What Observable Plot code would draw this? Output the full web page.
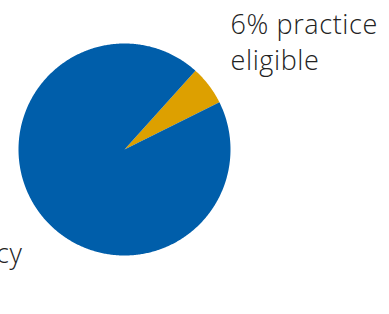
<!DOCTYPE html>
<html>
<head>
<meta charset="utf-8">
<script src="https://cdn.jsdelivr.net/npm/d3@7"></script>
<script src="https://cdn.jsdelivr.net/npm/@observablehq/plot@0.6"></script>
<style>
  html, body { margin: 0; padding: 0; background: #fff; }
  svg { display: block; }
  svg text { letter-spacing: 0.6px; }
</style>
</head>
<body>
<div id="chart"></div>
<script>
// Data
const categories = ["6% practice eligible", "94%"];
const shares = [6, 94];
const colors = ["#DDA000", "#005EAA"];
const labelTexts = ["6% practice\neligible", "cy"];

const W = 389, H = 314;
const cx = 124, cy = 149, R = 106;

const pie = d3.pie().sort(null).startAngle(42 * Math.PI / 180).endAngle(42 * Math.PI / 180 + 2 * Math.PI);
const arcs = pie(shares);

const pts = [];
arcs.forEach((a, i) => {
  const cat = categories[i];
  pts.push({cat, x: 0, y: 0});
  const n = Math.max(2, Math.ceil((a.endAngle - a.startAngle) / 0.01));
  for (let k = 0; k <= n; k++) {
    const t = a.startAngle + (a.endAngle - a.startAngle) * k / n;
    pts.push({cat, x: Math.sin(t), y: Math.cos(t)});
  }
  pts.push({cat, x: 0, y: 0});
});

const chart = Plot.plot({
  width: W,
  height: H,
  margin: 0,
  style: {background: "#fff", fontFamily: "'Open Sans', sans-serif"},
  x: {domain: [-cx / R, (W - cx) / R], range: [0, W], axis: null},
  y: {domain: [-(H - cy) / R, cy / R], range: [H, 0], axis: null},
  color: {domain: categories, range: colors},
  marks: [
    Plot.line(pts, {x: "x", y: "y", z: "cat", fill: "cat", stroke: null, curve: "linear"}),
    Plot.text([labelTexts[0]], {x: (230 - cx) / R, y: (cy - 8) / R, text: d => d, textAnchor: "start", lineAnchor: "top", fontSize: 27, fontWeight: 300, lineHeight: 1.33, fill: "#222"}),
    Plot.text([labelTexts[1]], {x: (22 - cx) / R, y: (cy - 243) / R, text: d => d, textAnchor: "end", lineAnchor: "top", fontSize: 27, fontWeight: 300, fill: "#222"})
  ]
});
document.getElementById("chart").appendChild(chart);
</script>
</body>
</html>
